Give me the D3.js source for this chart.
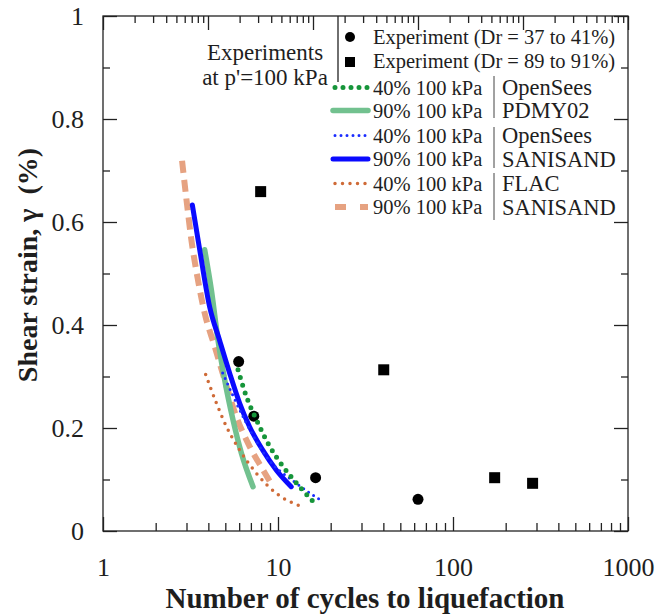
<!DOCTYPE html>
<html>
<head>
<meta charset="utf-8">
<script src="https://cdn.jsdelivr.net/npm/d3@7"></script>
<style>
  body { margin: 0; background: #fff; }
  text { font-family: "Liberation Serif", "Times New Roman", serif; fill: #1e1e1e; }
  .axis line, .axis path { stroke: #222; stroke-width: 1.3; }
</style>
</head>
<body>
<div id="chart"></div>
<script>
// tick values
const cycleTicks = [1, 10, 100, 1000];
const strainTicks = [0, 0.2, 0.4, 0.6, 0.8, 1];
const strainMinor = [0.1, 0.3, 0.5, 0.7, 0.9];

// experiments [cycles, strain]
const expLoose = [[5.96, 0.329], [7.27, 0.223], [16.4, 0.1035], [63.1, 0.0616]];
const expDense = [[7.96, 0.659], [40.2, 0.313], [173, 0.1035], [285, 0.0926]];

// simulations [cycles, strain]
const pdmy40 = [[5.91, 0.313], [6.6, 0.261], [7.53, 0.216], [8.97, 0.164], [10.7, 0.125], [13.3, 0.086], [16.0, 0.056]];
const pdmy90 = [[3.81, 0.546], [4.16, 0.468], [4.54, 0.371], [4.96, 0.293], [5.53, 0.216], [6.18, 0.151], [7.2, 0.086]];
const sani40 = [[4.83, 0.307], [6.45, 0.216], [8.59, 0.144], [12.7, 0.093], [17.5, 0.060]];
const sani90 = [[3.24, 0.633], [3.57, 0.546], [4.07, 0.435], [4.64, 0.370], [5.30, 0.306], [6.04, 0.248], [6.89, 0.202], [8.18, 0.157], [9.79, 0.118], [11.9, 0.086]];
const flac40 = [[3.86, 0.304], [4.45, 0.248], [5.07, 0.203], [6.04, 0.157], [7.53, 0.112], [9.79, 0.073], [13.8, 0.047]];
const flac90 = [[2.83, 0.719], [3.0, 0.643], [3.2, 0.565], [3.49, 0.487], [3.81, 0.423], [4.35, 0.358], [4.96, 0.293], [5.78, 0.222], [6.89, 0.164], [8.2, 0.119], [9.36, 0.086]];

const legendLabels = ['40% 100 kPa', '90% 100 kPa', '40% 100 kPa', '90% 100 kPa', '40% 100 kPa', '90% 100 kPa'];
const modelLabels = ['OpenSees', 'PDMY02', 'OpenSees', 'SANISAND', 'FLAC', 'SANISAND'];

var width = 656, height = 616;
var mLeft = 103, mRight = 628, mTop = 16, mBottom = 531;

var svg = d3.select('#chart').append('svg')
    .attr('width', width)
    .attr('height', height);

var x = d3.scaleLog().domain([1, 1000]).range([mLeft, mRight]);
var xTop = d3.scaleLog().domain([1, 100000]).range([mLeft, mRight]);  // odd top axis in the original
var y = d3.scaleLinear().domain([0, 1]).range([mBottom, mTop]);

var minorX = x.ticks().filter(d => cycleTicks.indexOf(d) < 0);
var topTicks = xTop.ticks();
var isDecade = d => Math.abs(Math.log10(d) - Math.round(Math.log10(d))) < 1e-9;

// axes, ticks point inward
function axis(gen, tr, values, size, fmt) {
  var g = svg.append('g').attr('class', 'axis').attr('transform', tr)
    .call(gen.tickValues(values).tickSizeInner(-size).tickSizeOuter(0)
      .tickFormat(fmt || (() => '')));
  g.select('.domain').remove();
  return g;
}

axis(d3.axisBottom(x), 'translate(0,' + mBottom + ')', minorX, 8);
axis(d3.axisBottom(x), 'translate(0,' + mBottom + ')', cycleTicks, 14, d3.format('d'))
  .call(g => g.selectAll('text').attr('y', 27).attr('font-size', 26).attr('font-family', null));

axis(d3.axisTop(xTop), 'translate(0,' + mTop + ')', topTicks.filter(d => !isDecade(d)), 7);
axis(d3.axisTop(xTop), 'translate(0,' + mTop + ')', topTicks.filter(isDecade), 14);

axis(d3.axisLeft(y), 'translate(' + mLeft + ',0)', strainMinor, 7);
axis(d3.axisLeft(y), 'translate(' + mLeft + ',0)', strainTicks, 14, d3.format(''))
  .call(g => g.selectAll('text').attr('x', -19).attr('font-size', 26).attr('font-family', null));

axis(d3.axisRight(y), 'translate(' + mRight + ',0)', strainMinor, 7);
axis(d3.axisRight(y), 'translate(' + mRight + ',0)', strainTicks, 14);

svg.append('rect')
    .attr('x', mLeft).attr('y', mTop)
    .attr('width', mRight - mLeft).attr('height', mBottom - mTop)
    .attr('fill', 'none').attr('stroke', '#222').attr('stroke-width', 1.3);

// titles
svg.append('text')
    .attr('x', 365).attr('y', 608)
    .attr('text-anchor', 'middle')
    .attr('font-size', 29).attr('font-weight', 'bold')
    .text('Number of cycles to liquefaction');

svg.append('text')
    .attr('transform', 'translate(37,265) rotate(-90)')
    .attr('text-anchor', 'middle')
    .attr('font-size', 28).attr('font-weight', 'bold')
    .style('white-space', 'pre')
    .text('Shear strain, \u03b3  (%)');

// series styles
var series = [
  { data: flac90, color: '#e6a281', width: 6, dash: '12 7', cap: 'butt' },
  { data: pdmy90, color: '#72c18f', width: 5.5, dash: null, cap: 'round' },
  { data: flac40, color: '#cf6b38', width: 3.5, dash: '0 7.5', cap: 'round' },
  { data: sani90, color: '#0a0aff', width: 5, dash: null, cap: 'round' },
  { data: sani40, color: '#1a2cff', width: 3, dash: '0 6', cap: 'round' },
  { data: pdmy40, color: '#16953a', width: 5, dash: '0 8', cap: 'round' }
];

var line = d3.line()
    .x(d => x(d[0]))
    .y(d => y(d[1]))
    .curve(d3.curveMonotoneX);

svg.selectAll('.pt-loose')
    .data(expLoose)
  .enter().append('circle')
    .attr('cx', d => x(d[0]))
    .attr('cy', d => y(d[1]))
    .attr('r', 5.5)
    .attr('fill', '#000');

svg.selectAll('.pt-dense')
    .data(expDense)
  .enter().append('rect')
    .attr('x', d => x(d[0]) - 5.5)
    .attr('y', d => y(d[1]) - 5.5)
    .attr('width', 11).attr('height', 11)
    .attr('fill', '#000');

svg.selectAll('.sim')
    .data(series)
  .enter().append('path')
    .attr('d', d => line(d.data))
    .attr('fill', 'none')
    .attr('stroke', d => d.color)
    .attr('stroke-width', d => d.width)
    .attr('stroke-dasharray', d => d.dash)
    .attr('stroke-linecap', d => d.cap);

// legend
var lg = svg.append('g');

lg.append('line')
    .attr('x1', 338).attr('x2', 338).attr('y1', mTop).attr('y2', 82)
    .attr('stroke', '#222').attr('stroke-width', 1.3);

lg.append('text').attr('x', 265).attr('y', 60).attr('text-anchor', 'middle')
    .attr('font-size', 23).text('Experiments');
lg.append('text').attr('x', 265).attr('y', 85).attr('text-anchor', 'middle')
    .attr('font-size', 23).text("at p'=100 kPa");

lg.append('circle').attr('cx', 350).attr('cy', 37).attr('r', 5).attr('fill', '#000');
lg.append('rect').attr('x', 345).attr('y', 57).attr('width', 10).attr('height', 10).attr('fill', '#000');
lg.append('text').attr('x', 373).attr('y', 44).attr('font-size', 20.5).text('Experiment (Dr = 37 to 41%)');
lg.append('text').attr('x', 373).attr('y', 68).attr('font-size', 20.5).text('Experiment (Dr = 89 to 91%)');

var rowY = [87.5, 110.5, 135.5, 159, 183.5, 207];
var legOrder = [5, 1, 4, 3, 2, 0];   // index into series

rowY.forEach((ry, i) => {
  var s = series[legOrder[i]];
  lg.append('line')
      .attr('x1', s.dash ? 335 : 333).attr('x2', 368)
      .attr('y1', ry).attr('y2', ry)
      .attr('stroke', s.color)
      .attr('stroke-width', s.width)
      .attr('stroke-dasharray', i === 5 ? '11 14' : s.dash)
      .attr('stroke-linecap', s.cap);
  lg.append('text').attr('x', 373).attr('y', ry + 7)
      .attr('font-size', 20.5).text(legendLabels[i]);
  lg.append('text').attr('x', 502).attr('y', ry + 7.5)
      .attr('font-size', 22.5).text(modelLabels[i]);
});

[[76, 118], [127, 168], [173, 220]].forEach(r => {
  lg.append('line')
      .attr('x1', 494).attr('x2', 494).attr('y1', r[0]).attr('y2', r[1])
      .attr('stroke', '#444').attr('stroke-width', 1);
});
</script>
</body>
</html>
